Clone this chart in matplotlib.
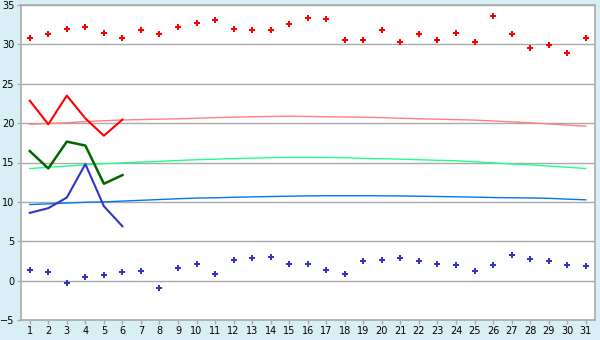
import matplotlib.pyplot as plt

# Días del mes
dias = list(range(1, 32))

# Máximas y mínimas diarias (puntos)
maximas = [30.8, 31.3, 32.0, 32.2, 31.5, 30.8, 31.8, 31.3, 32.2, 32.7, 33.1,
           32.0, 31.8, 31.8, 32.6, 33.3, 33.2, 30.6, 30.6, 31.8, 30.3, 31.3,
           30.6, 31.5, 30.3, 33.6, 31.3, 29.6, 29.9, 28.9, 30.8]
minimas = [1.4, 1.1, -0.25, 0.4, 0.75, 1.1, 1.25, -0.9, 1.65, 2.15, 0.9,
           2.65, 2.9, 3.05, 2.15, 2.15, 1.4, 0.9, 2.5, 2.65, 2.9, 2.5,
           2.15, 2.0, 1.25, 2.0, 3.3, 2.75, 2.5, 2.0, 1.9]

# Normales (líneas suaves)
normal_max = [19.85, 19.95, 20.05, 20.2, 20.3, 20.4, 20.45, 20.5, 20.55, 20.62,
              20.7, 20.75, 20.8, 20.85, 20.88, 20.85, 20.8, 20.77, 20.75, 20.7,
              20.62, 20.55, 20.5, 20.45, 20.38, 20.28, 20.15, 20.05, 19.9,
              19.75, 19.62]
normal_med = [14.23, 14.4, 14.55, 14.7, 14.85, 14.95, 15.05, 15.15, 15.25, 15.35,
              15.42, 15.5, 15.55, 15.62, 15.65, 15.65, 15.63, 15.6, 15.52, 15.48,
              15.42, 15.35, 15.28, 15.22, 15.1, 14.95, 14.8, 14.7, 14.55, 14.4,
              14.23]
normal_min = [9.66, 9.75, 9.85, 9.95, 10.0, 10.1, 10.2, 10.3, 10.4, 10.48,
              10.52, 10.58, 10.63, 10.68, 10.72, 10.76, 10.78, 10.78, 10.78,
              10.77, 10.75, 10.72, 10.68, 10.64, 10.6, 10.55, 10.52, 10.5,
              10.45, 10.35, 10.26]

# Valores actuales (primeros días)
dias_act = [1, 2, 3, 4, 5, 6]
act_max = [22.85, 19.85, 23.5, 20.6, 18.4, 20.45]
act_med = [16.45, 14.25, 17.65, 17.15, 12.3, 13.4]
act_min = [8.6, 9.2, 10.55, 14.8, 9.45, 6.9]

fondo = "#d9eff6"
gris = "#aaaaaa"

fig = plt.figure(figsize=(6, 3.4), dpi=100, facecolor=fondo)
ax = fig.add_axes([20.5 / 600, 1 - 320 / 340, (595 - 20.5) / 600, (320 - 5) / 340])
ax.set_facecolor("white")

ax.set_xlim(0.5, 31.5)
ax.set_ylim(-5, 35)
ax.set_yticks(range(-5, 36, 5))
ax.set_xticks(dias)
ax.grid(axis="y", color=gris, linewidth=1)
ax.set_axisbelow(True)

for lado in ax.spines.values():
    lado.set_color(gris)
    lado.set_linewidth(1.2)

ax.tick_params(axis="both", colors=gris, length=3, width=1, labelsize=7,
               labelcolor="black", pad=1.5)

# Normales
ax.plot(dias, normal_max, color="#ff8080", linewidth=1)
ax.plot(dias, normal_med, color="#22ff88", linewidth=1)
ax.plot(dias, normal_min, color="#0077ee", linewidth=1)

# Valores actuales
ax.plot(dias_act, act_max, color="#ff0000", linewidth=1.5)
ax.plot(dias_act, act_med, color="#006600", linewidth=1.8)
ax.plot(dias_act, act_min, color="#3333cc", linewidth=1.5)

# Puntos de máximas y mínimas
ax.plot(dias, maximas, linestyle="none", marker="P", markersize=4,
        color="#ff0000", markeredgewidth=0)
ax.plot(dias, minimas, linestyle="none", marker="P", markersize=4,
        color="#3333cc", markeredgewidth=0)

plt.savefig("out.png", dpi=100, facecolor=fondo)
